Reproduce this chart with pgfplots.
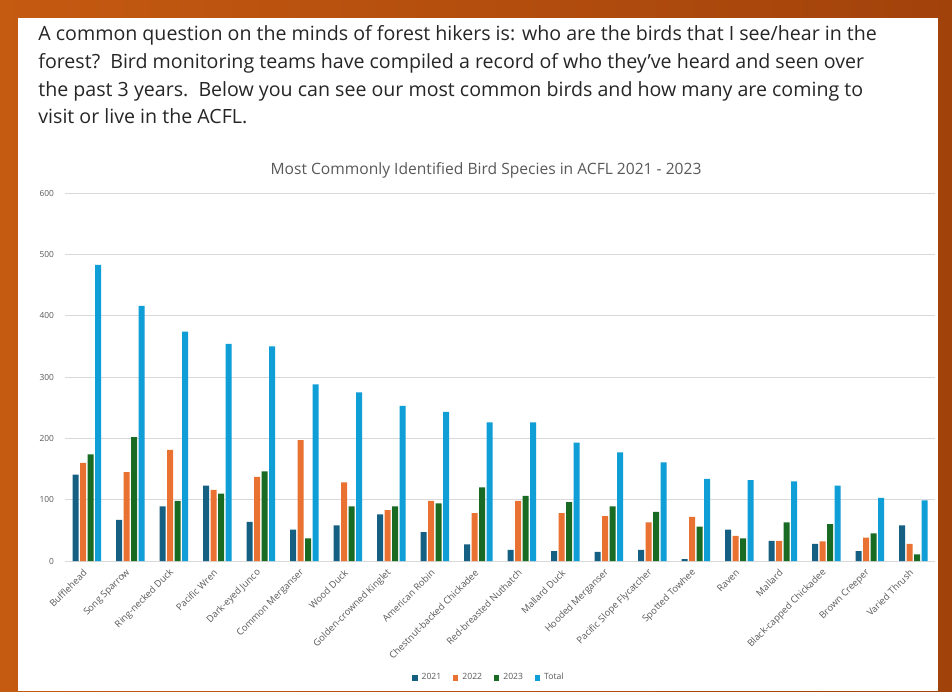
\documentclass[border=0pt]{standalone}
\usepackage{pgfplots}
\usepackage{pgfplotstable}
\usepackage{fontspec}
\setmainfont{Open Sans}
\pgfplotsset{compat=1.18}

\definecolor{c21}{HTML}{156082}
\definecolor{c22}{HTML}{E97132}
\definecolor{c23}{HTML}{196B24}
\definecolor{ctot}{HTML}{0F9ED5}
\definecolor{gridc}{HTML}{D9D9D9}
\definecolor{lbl}{HTML}{595959}
\definecolor{body}{HTML}{262626}
\definecolor{frameL}{HTML}{C55A11}
\definecolor{frameR}{HTML}{A2420B}

% counts per year
\pgfplotstableread{
idx y2021 y2022 y2023 total
0  141 160 174 483
1  67  145 202 416
2  89  181 98  374
3  123 116 110 354
4  64  137 146 350
5  51  197 37  288
6  58  128 89  275
7  76  83  89  253
8  47  98  94  243
9  27  78  120 226
10 18  98  106 226
11 16  78  96  193
12 15  73  89  177
13 18  63  80  161
14 3   72  56  134
15 51  41  37  132
16 33  33  63  130
17 28  32  60  123
18 16  38  45  103
19 58  28  11  99
}\birds

\begin{document}
\begin{tikzpicture}
% page frame: 952x691 px at 0.5pt per px
\useasboundingbox (0,0) rectangle (476pt,345.5pt);
\shade[left color=frameL, right color=frameR] (0,0) rectangle (476pt,345.5pt);
\fill[white] (9pt,0) rectangle (469pt,336.5pt);

% intro text
\begin{scope}[every node/.style={anchor=base west, inner sep=0pt, text=body, font=\fontsize{9.8}{11}\selectfont}]
\node at (19pt,325pt) {A common question on the minds of forest hikers is: who are the birds that I see/hear in the};
\node at (19pt,311pt) {forest?\ \ Bird monitoring teams have compiled a record of who they've heard and seen over};
\node at (19pt,297pt) {the past 3 years.\ \ Below you can see our most common birds and how many are coming to};
\node at (19pt,283.5pt) {visit or live in the ACFL.};
\end{scope}

\node[text=lbl, font=\fontsize{7.8}{8}\selectfont] at (243pt,260.5pt)
  {Most Commonly Identified Bird Species in ACFL 2021 - 2023};

\begin{axis}[
    at={(32.5pt,65pt)}, anchor=south west,
    scale only axis,
    width=435pt, height=184pt,
    ybar=0.75pt, bar width=3pt,
    xmin=-0.5, xmax=19.5,
    ymin=0, ymax=600,
    ytick={0,100,...,600},
    xtick=data,
    xticklabels={Bufflehead,Song Sparrow,Ring-necked Duck,Pacific Wren,Dark-eyed Junco,
      Common Merganser,Wood Duck,Golden-crowned Kinglet,American Robin,
      Chestnut-backed Chickadee,Red-breasted Nuthatch,Mallard Duck,Hooded Merganser,
      Pacific Slope Flycatcher,Spotted Towhee,Raven,Mallard,Black-capped Chickadee,
      Brown Creeper,Varied Thrush},
    xticklabel style={rotate=45, anchor=east, font=\fontsize{4.7}{5}\selectfont, text=lbl, inner sep=1pt},
    yticklabel style={font=\fontsize{4.2}{5}\selectfont, text=lbl, xshift=-2pt},
    /pgf/number format/assume math mode=true,
    ymajorgrids=true,
    grid style={gridc, line width=0.5pt},
    axis line style={draw=none},
    tick style={draw=none},
    legend columns=4,
    legend style={at={(0.4885,-0.318)}, anchor=center, draw=none,
      font=\fontsize{4.3}{5}\selectfont, text=lbl,
      /tikz/every even column/.append style={column sep=4pt}},
    legend image code/.code={\draw[#1,/tikz/.cd,draw=none] (0pt,-1.3pt) rectangle (2.6pt,1.3pt);},
]
\addplot[fill=c21, draw=none] table[x=idx, y=y2021] {\birds};
\addplot[fill=c22, draw=none] table[x=idx, y=y2022] {\birds};
\addplot[fill=c23, draw=none] table[x=idx, y=y2023] {\birds};
\addplot[fill=ctot, draw=none] table[x=idx, y=total] {\birds};
\legend{2021,2022,2023,Total}
\end{axis}
\end{tikzpicture}
\end{document}
